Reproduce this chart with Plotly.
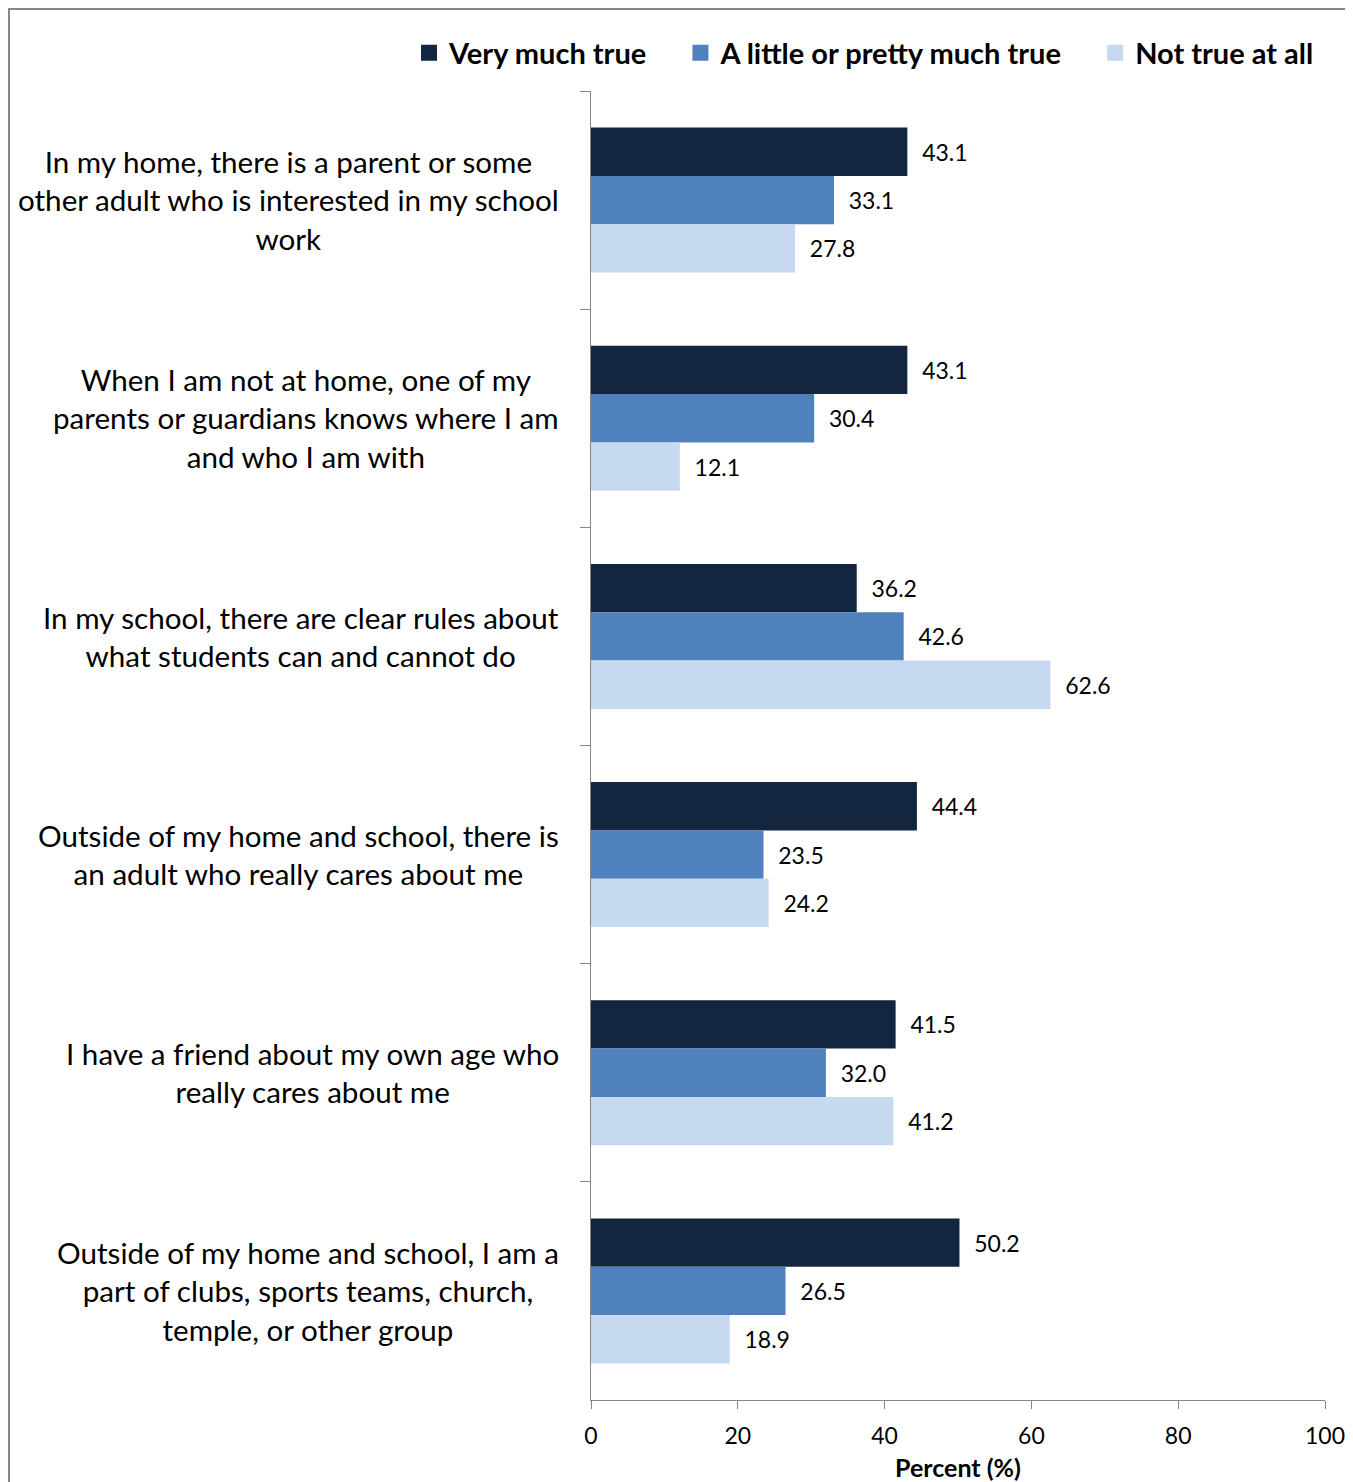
import plotly.graph_objects as go

categories = [
    "In my home, there is a parent or some<br>other adult who is interested in my school<br>work",
    "When I am not at home, one of my<br>parents or guardians knows where I am<br>and who I am with",
    "In my school, there are clear rules about<br>what students can and cannot do",
    "Outside of my home and school, there is<br>an adult who really cares about me",
    "I have a friend about my own age who<br>really cares about me",
    "Outside of my home and school, I am a<br>part of clubs, sports teams, church,<br>temple, or other group",
]
series_names = ["Very much true", "A little or pretty much true", "Not true at all"]
very_much = [43.1, 43.1, 36.2, 44.4, 41.5, 50.2]
a_little = [33.1, 30.4, 42.6, 23.5, 32.0, 26.5]
not_true = [27.8, 12.1, 62.6, 24.2, 41.2, 18.9]
x_ticks = [0, 20, 40, 60, 80, 100]

colors = ["#13253F", "#4F81BD", "#C6D9F1"]
FONT = "Lato"

# page body adds an 8px margin, so the figure is laid out in its own coords
W, H = 1345, 1474
L, R, T, B = 583, 28, 83, 82
pw, ph = W - L - R, H - T - B

fig = go.Figure()
for name, vals, c in zip(series_names, [very_much, a_little, not_true], colors):
    fig.add_trace(go.Bar(
        y=categories, x=vals, name=name, orientation="h", showlegend=False,
        marker=dict(color=c, line=dict(width=0)),
        text=vals, texttemplate="\u00a0\u00a0%{x:.1f}",
        textposition="outside", cliponaxis=False,
        textfont=dict(family=FONT, size=23, color="#000000"),
    ))

# legend entries with larger square swatches
pad = "\u00a0" * 4
for i, (name, c) in enumerate(zip(series_names, colors)):
    fig.add_trace(go.Scatter(
        x=[None], y=[None], mode="markers", name=name + (pad if i < 2 else ""),
        marker=dict(symbol="square", size=19, color=c), showlegend=True,
    ))

# category labels, centred lines, right-aligned block
for cat in categories:
    fig.add_annotation(
        x=-30 / pw, xref="paper", y=cat, yref="y",
        text=cat, showarrow=False, xanchor="right", yanchor="middle",
        align="center", font=dict(family=FONT, size=29.6, color="#000000"),
    )

# outer frame (right / bottom edges fall outside the page)
fig.add_shape(
    type="rect", xref="paper", yref="paper",
    x0=(1 - L) / pw, x1=(W + 20 - L) / pw,
    y0=-(B + 20) / ph, y1=1 + (T - 1) / ph,
    line=dict(color="#878787", width=2), fillcolor="rgba(0,0,0,0)", layer="below",
)

fig.update_layout(
    width=W, height=H,
    margin=dict(l=L, r=R, t=T, b=B, pad=0, autoexpand=False),
    barmode="group", bargap=0.335, bargroupgap=0,
    plot_bgcolor="white", paper_bgcolor="white",
    font=dict(family=FONT, color="#000000"),
    legend=dict(
        orientation="h", x=(401 - L) / pw, xanchor="left", y=1 + (T - 45) / ph, yanchor="middle",
        font=dict(family=FONT, size=29, color="#000000", weight="bold"),
        traceorder="normal", bgcolor="rgba(0,0,0,0)", borderwidth=0,
    ),
    showlegend=True,
)
fig.update_xaxes(
    range=[0, 100], tickvals=x_ticks, ticks="outside", ticklen=8, tickcolor="#868686",
    showline=True, linecolor="#868686", linewidth=1, showgrid=False, zeroline=False,
    tickfont=dict(family=FONT, size=23, color="#000000"), ticklabelstandoff=7,
    title=dict(text="<b>Percent (%)</b>", font=dict(family=FONT, size=25, color="#000000"), standoff=14),
)
fig.update_yaxes(
    autorange="reversed", tickson="boundaries", ticks="outside", ticklen=10, tickcolor="#868686",
    showline=True, linecolor="#868686", linewidth=1, showgrid=False, showticklabels=False,
)

fig.write_html("out.html")
